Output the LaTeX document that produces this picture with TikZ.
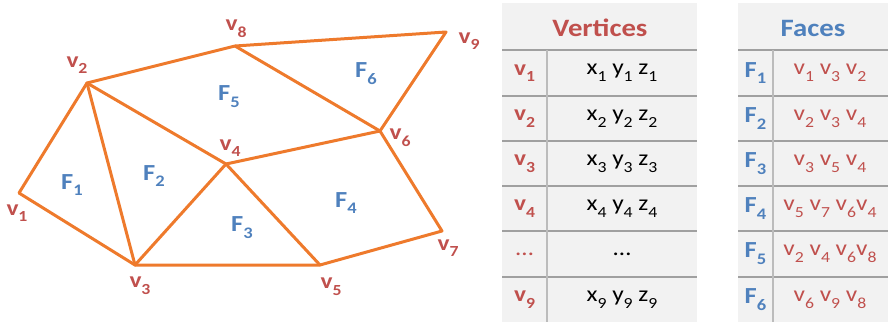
\documentclass[tikz,border=0pt]{standalone}
\usepackage{graphicx}
\usepackage{fontspec}
\setmainfont{Carlito}[FakeStretch=1.15]
\definecolor{meshline}{RGB}{238,122,44}
\definecolor{vertred}{RGB}{192,80,77}
\definecolor{faceblue}{RGB}{79,129,189}
\definecolor{tablebg}{RGB}{242,242,242}
\definecolor{rulegray}{RGB}{160,160,160}
\newcommand{\idx}[1]{\raisebox{-0.3em}{\scalebox{0.7}{#1}}}
\newcommand{\vsub}[1]{v\idx{#1}}
\newcommand{\fsub}[1]{F\idx{#1}}

\begin{document}
\begin{tikzpicture}[x=1pt,y=-1pt,
    edge/.style={meshline,line width=3pt,line join=round,line cap=round},
    vlabel/.style={vertred,inner sep=0pt,font=\fontsize{22}{24}\selectfont\bfseries},
    flabel/.style={faceblue,inner sep=0pt,font=\fontsize{23}{24}\selectfont\bfseries},
    headcell/.style={inner sep=0pt,font=\fontsize{25}{28}\selectfont\bfseries},
    cell/.style={inner sep=0pt,font=\fontsize{22}{24}\selectfont},
    hrule/.style={rulegray,line width=2pt},
    vrule/.style={rulegray!70,line width=1.2pt}]
  \useasboundingbox (0,0) rectangle (891,322);
  % mesh corners
  \foreach \n/\px/\py in {1/19/193, 2/87/83, 3/135/265, 4/226/164, 5/320/265,
                          6/380/131, 7/442/231, 8/235/46, 9/446/32}{
    \coordinate (v\n) at (\px,\py);
  }
  % outline and inner edges
  \draw[edge] (v1) -- (v2) -- (v8) -- (v9) -- (v6) -- (v7) -- (v5) -- (v3) -- cycle;
  \foreach \a/\b in {2/3, 2/4, 3/4, 4/5, 4/6, 6/8}{
    \draw[edge] (v\a) -- (v\b);
  }
  % vertex names
  \foreach \n/\px/\py in {1/17/213, 2/77/65, 3/140/286, 4/230/148, 5/331/287,
                          6/400/138, 7/448/248, 8/236/29, 9/469/41}{
    \node[vlabel] (lv\n) at (\px,\py) {\vsub{\n}};
  }
  % face names
  \foreach \n/\px/\py in {1/72/185, 2/154/176, 3/242/228, 4/346/203, 5/229/97, 6/366/74}{
    \node[flabel] (lf\n) at (\px,\py) {\fsub{\n}};
  }

  % vertex table
  \fill[tablebg] (502,3) rectangle (697,322);
  \fill[tablebg] (738,3) rectangle (888,322);
  \foreach \ry in {50, 96, 141, 186, 231, 277}{
    \draw[hrule] (502,\ry) -- (697,\ry);
    \draw[hrule] (738,\ry) -- (888,\ry);
  }
  \draw[vrule] (547,50) -- (547,322);
  \draw[vrule] (773,50) -- (773,322);
  \node[headcell, vertred] (verthead) at (600,28) {Vertices};
  \node[headcell, faceblue] (facehead) at (813,28) {Faces};
  \foreach \k/\ry/\num in {1/73/1, 2/118.5/2, 3/163.5/3, 4/208.5/4, 6/299.5/9}{
    \node[vlabel] (vid\k) at (524.5,\ry) {\vsub{\num}};
    \node[cell] (vpos\k) at (622,\ry) {x\idx{\num} y\idx{\num} z\idx{\num}};
  }
  \node[cell, vertred] (vid5) at (524.5,254) {\dots};
  \node[cell] (vpos5) at (622,254) {\dots};

  % face table
  \foreach \k/\ry/\corners in {1/73/{\vsub{1} \vsub{3} \vsub{2}},
                               2/118.5/{\vsub{2} \vsub{3} \vsub{4}},
                               3/163.5/{\vsub{3} \vsub{5} \vsub{4}},
                               4/208.5/{\vsub{5} \vsub{7} \vsub{6}\vsub{4}},
                               5/254/{\vsub{2} \vsub{4} \vsub{6}\vsub{8}},
                               6/299.5/{\vsub{6} \vsub{9} \vsub{8}}}{
    \node[flabel] (fid\k) at (755.5,\ry) {\fsub{\k}};
    \node[cell, vertred] (fcorner\k) at (830,\ry) {\corners};
  }
\end{tikzpicture}
\end{document}
